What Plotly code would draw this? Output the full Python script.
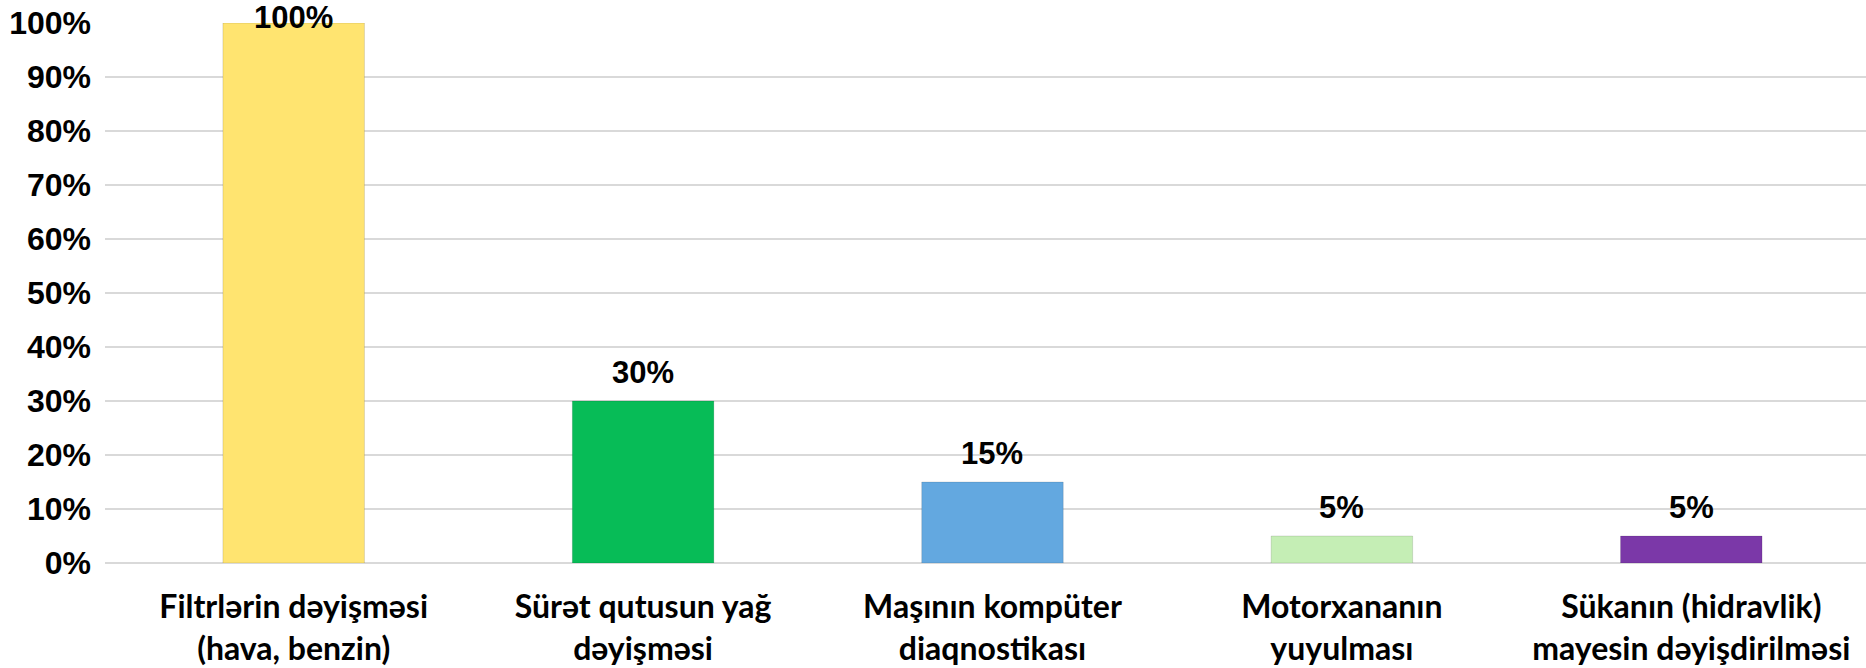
import plotly.graph_objects as go

categories = [
    "Filtrlərin dəyişməsi<br>(hava, benzin)",
    "Sürət qutusun yağ<br>dəyişməsi",
    "Maşının kompüter<br>diaqnostikası",
    "Motorxananın<br>yuyulması",
    "Sükanın (hidravlik)<br>mayesin dəyişdirilməsi",
]
values = [1.00, 0.30, 0.15, 0.05, 0.05]
labels = ["100%", "30%", "15%", "5%", "5%"]
colors = ["#FFE470", "#07BC57", "#63A8E0", "#C5EEB5", "#7B38A8"]
ytick_vals = [0, 0.1, 0.2, 0.3, 0.4, 0.5, 0.6, 0.7, 0.8, 0.9, 1.0]
ytick_text = ["0%", "10%", "20%", "30%", "40%", "50%", "60%", "70%", "80%", "90%", "100%"]

fig = go.Figure()
fig.add_trace(go.Bar(
    x=categories, y=values,
    marker=dict(color=colors, line=dict(color="rgba(0,0,0,0.12)", width=1)),
    width=0.405,
    hoverinfo="skip",
))

for c, v, t in zip(categories, values, labels):
    fig.add_annotation(
        x=c, y=v, xref="x", yref="y", text=t, showarrow=False,
        yanchor="middle", yshift=(29 if v < max(ytick_vals) else 6),
        font=dict(family="Liberation Sans, Arial, sans-serif", size=31, color="#000000"),
    )

fig.update_layout(
    width=1866, height=668,
    margin=dict(l=105, r=0, t=23, b=105, autoexpand=False),
    paper_bgcolor="white", plot_bgcolor="white",
    showlegend=False,
)
fig.update_xaxes(
    range=[-0.54, len(categories) - 0.5],
    showgrid=False, showline=False, zeroline=False, automargin=False,
    tickfont=dict(family="Lato, Liberation Sans, sans-serif", size=32, color="#000000", weight="bold"),
    ticklabelstandoff=22,
)
fig.update_yaxes(
    range=[0, 1.0], automargin=False,
    tickvals=ytick_vals, ticktext=ytick_text,
    showgrid=True, gridcolor="#D9D9D9", gridwidth=2,
    zeroline=True, zerolinecolor="#D9D9D9", zerolinewidth=2,
    showline=False,
    tickfont=dict(family="Liberation Sans, Arial, sans-serif", size=32, color="#000000", weight="bold"),
    ticklabelstandoff=13,
)
fig.update_annotations(font_weight="bold")

fig.write_html(
    "out.html",
    config={"displayModeBar": False},
    post_script="document.body.style.margin='0';document.body.style.overflow='hidden';",
)
